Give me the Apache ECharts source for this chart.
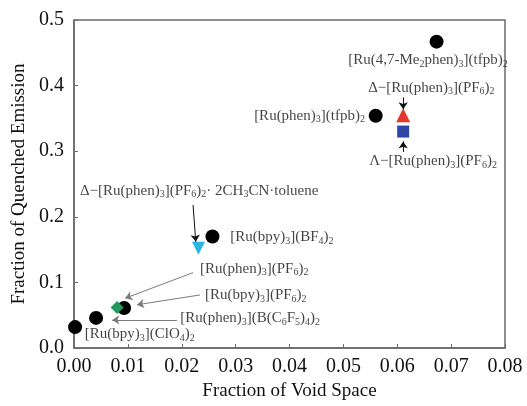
<!DOCTYPE html>
<html>
<head>
<meta charset="utf-8">
<script src="https://cdn.jsdelivr.net/npm/echarts@6/dist/echarts.min.js"></script>
<style>
  html, body { margin: 0; padding: 0; background: #fff; }
  #chart { width: 527px; height: 406px; }
</style>
</head>
<body>
<div id="chart"></div>
<script>
// values
var circleX = [0.0002, 0.0041, 0.0093, 0.0257, 0.0560, 0.0673];
var circleY = [0.032, 0.046, 0.061, 0.170, 0.354, 0.467];
var diamondPt = [0.0080, 0.062];     // [Ru(phen)3](PF6)2
var cyanPt = [0.0231, 0.152];        // Δ-[Ru(phen)3](PF6)2·2CH3CN·toluene
var redPt = [0.0611, 0.355];         // Δ-[Ru(phen)3](PF6)2
var bluePt = [0.0611, 0.330];        // Λ-[Ru(phen)3](PF6)2

var xTicks = [0, 0.01, 0.02, 0.03, 0.04, 0.05, 0.06, 0.07, 0.08];
var yTicks = [0, 0.1, 0.2, 0.3, 0.4, 0.5];

// annotation text ({s|..} = subscript), anchor point in data space, alignment
var labelText = [
  "[Ru(4,7-Me{s|2}phen){s|3}](tfpb){s|2}",
  "Δ−[Ru(phen){s|3}](PF{s|6}){s|2}",
  "[Ru(phen){s|3}](tfpb){s|2}",
  "Λ−[Ru(phen){s|3}](PF{s|6}){s|2}",
  "Δ−[Ru(phen){s|3}](PF{s|6}){s|2}· 2CH{s|3}CN·toluene",
  "[Ru(bpy){s|3}](BF{s|4}){s|2}",
  "[Ru(phen){s|3}](PF{s|6}){s|2}",
  "[Ru(bpy){s|3}](PF{s|6}){s|2}",
  "[Ru(phen){s|3}](B(C{s|6}F{s|5}){s|4}){s|2}",
  "[Ru(bpy){s|3}](ClO{s|4}){s|2}"
];
var labelAt = [
  [0.0509, 0.439], [0.0546, 0.397], [0.0540, 0.354], [0.0548, 0.285],
  [0.0011, 0.240], [0.0290, 0.169], [0.0234, 0.121], [0.0243, 0.081],
  [0.0197, 0.046], [0.0020, 0.021]
];
var labelRight = [false, false, true, false, false, false, false, false, false, false];

// arrows: from, to (data space), dark or grey
var arrowFrom = [[0.0611, 0.382], [0.0611, 0.299], [0.0221, 0.218], [0.0221, 0.115], [0.0234, 0.081], [0.0191, 0.043]];
var arrowTo = [[0.0611, 0.364], [0.0611, 0.315], [0.0226, 0.162], [0.0095, 0.076], [0.0117, 0.066], [0.0071, 0.043]];
var arrowGrey = [false, false, false, true, true, true];

var serif = "'Liberation Serif', 'DejaVu Serif', serif";

var circles = circleX.map(function (x, i) { return [x, circleY[i]]; });

var labelData = labelText.map(function (t, i) {
  return {
    value: labelAt[i],
    label: {
      position: labelRight[i] ? "left" : "right",
      align: labelRight[i] ? "right" : "left",
      formatter: "{n|" + t.replace(/\{s\|([^}]*)\}/g, "}{s|$1}{n|") + "}"
    }
  };
});

var arrowData = arrowFrom.map(function (f, i) {
  var c = arrowGrey[i] ? "#7a7a7a" : "#111";
  return [
    { coord: f, lineStyle: { color: c, width: 1, type: "solid" } },
    { coord: arrowTo[i] }
  ];
});

var chart = echarts.init(document.getElementById("chart"));
chart.setOption({
  animation: false,
  backgroundColor: "#fff",
  grid: {
    left: 74, right: 22, top: 20, bottom: 50,
    show: true, borderColor: "#6b6b6b", borderWidth: 1.5
  },
  xAxis: {
    type: "value",
    min: xTicks[0], max: xTicks[xTicks.length - 1], interval: 0.01,
    name: "Fraction of Void Space",
    nameLocation: "middle", nameGap: 32,
    nameTextStyle: { fontFamily: serif, fontSize: 19, color: "#111" },
    axisLine: { lineStyle: { color: "#6b6b6b", width: 1.5 } },
    axisTick: { inside: true, length: 4, lineStyle: { color: "#6b6b6b" } },
    axisLabel: {
      fontFamily: serif, fontSize: 20, color: "#111", margin: 9,
      formatter: function (v) { return v.toFixed(2); }
    },
    splitLine: { show: false }
  },
  yAxis: {
    type: "value",
    min: yTicks[0], max: yTicks[yTicks.length - 1], interval: 0.1,
    name: "Fraction of Quenched Emission",
    nameLocation: "middle", nameGap: 41,
    nameTextStyle: { fontFamily: serif, fontSize: 19, color: "#111" },
    axisLine: { lineStyle: { color: "#6b6b6b", width: 1.5 } },
    axisTick: { inside: true, length: 4, lineStyle: { color: "#6b6b6b" } },
    axisLabel: {
      fontFamily: serif, fontSize: 20, color: "#111", margin: 10,
      formatter: function (v) { return v.toFixed(1); }
    },
    splitLine: { show: false }
  },
  series: [
    {
      type: "scatter", data: circles, symbol: "circle", symbolSize: 14,
      itemStyle: { color: "#000", opacity: 1 }
    },
    {
      type: "scatter", data: [diamondPt], symbol: "diamond", symbolSize: 13,
      itemStyle: { color: "#1f9a5c", opacity: 1 }
    },
    {
      type: "scatter", data: [cyanPt], symbol: "triangle", symbolRotate: 180, symbolSize: 13,
      itemStyle: { color: "#2bb5e6", opacity: 1 }
    },
    {
      type: "scatter", data: [redPt], symbol: "triangle", symbolSize: 14,
      itemStyle: { color: "#e8362c", opacity: 1 }
    },
    {
      type: "scatter", data: [bluePt], symbol: "rect", symbolSize: 12,
      itemStyle: { color: "#2f47a6", opacity: 1 }
    },
    {
      // annotations + arrows
      type: "scatter", data: labelData, symbolSize: 0, silent: true,
      label: {
        show: true, distance: 0,
        rich: {
          n: { fontFamily: serif, fontSize: 15, color: "#111", lineHeight: 18, verticalAlign: "middle" },
          s: { fontFamily: serif, fontSize: 10, color: "#111", lineHeight: 10, verticalAlign: "bottom" }
        }
      },
      markLine: {
        silent: true, animation: false,
        symbol: ["none", "arrow"], symbolSize: 7,
        label: { show: false },
        data: arrowData
      }
    }
  ]
});
</script>
</body>
</html>
